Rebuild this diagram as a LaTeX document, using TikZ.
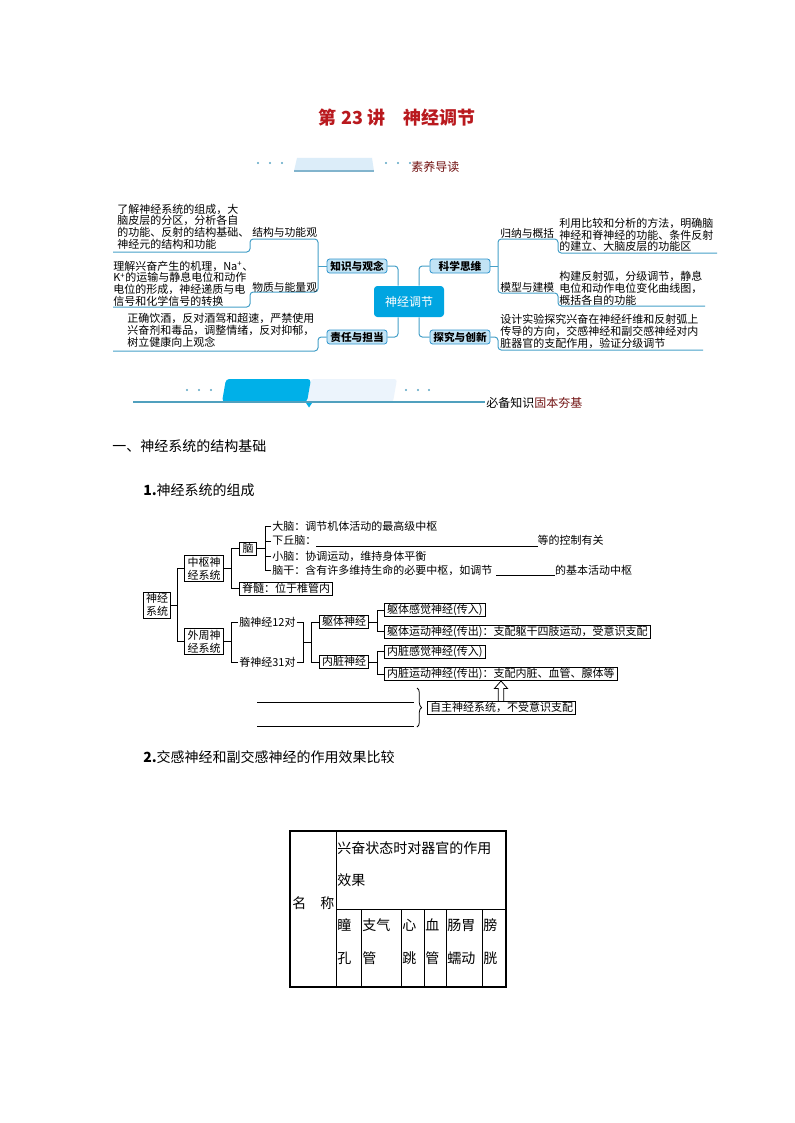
\documentclass[tikz,border=0pt]{standalone}
\usepackage{fontspec}
\setmainfont{Noto Sans CJK SC}
\usetikzlibrary{decorations.pathreplacing,calc}
\definecolor{titlered}{RGB}{185,25,30}
\definecolor{hdrred}{RGB}{115,20,20}
\definecolor{mmline}{RGB}{70,160,200}
\definecolor{mmborder}{RGB}{50,150,205}
\definecolor{mmfill}{RGB}{195,228,245}
\definecolor{mmblue}{RGB}{0,165,225}
\definecolor{dotc}{RGB}{90,165,195}
\definecolor{hdrlight}{RGB}{220,237,249}
\definecolor{hdrlineA}{RGB}{130,180,205}
\definecolor{hdrblue}{RGB}{0,176,232}
\definecolor{hdrpale}{RGB}{236,244,252}
\definecolor{hdrlineB}{RGB}{80,160,190}
\begin{document}
\begin{tikzpicture}[x=0.75pt,y=-0.75pt,
  mline/.style={draw=mmline, line width=0.75pt, rounded corners=2.5pt},
  branch/.style={draw=mmborder, fill=mmfill, rounded corners=2pt, line width=0.6pt, minimum width=45pt, minimum height=10.5pt, inner sep=0pt, font=\fontsize{8}{9}\selectfont\bfseries},
  hub/.style={fill=mmblue, rounded corners=2.5pt, minimum width=52.5pt, minimum height=23.25pt, inner sep=0pt, text=white, font=\fontsize{9}{10}\selectfont},
  desc/.style={inner sep=0pt, align=left, anchor=west, font=\fontsize{8.25}{8.8}\selectfont},
  lbl/.style={inner sep=0pt, anchor=west, font=\fontsize{8.1}{9}\selectfont},
  hdrtext/.style={inner sep=0pt, anchor=west, font=\fontsize{9}{10}\selectfont},
  sec/.style={inner sep=0pt, anchor=west, font=\fontsize{10.5}{12}\selectfont},
  tbox/.style={draw, line width=0.6pt, inner xsep=2pt, inner ysep=0.8pt, text height=6.9pt, text depth=1.35pt, font=\fontsize{8.25}{9.5}\selectfont},
  tboxtwo/.style={draw, line width=0.6pt, align=center, inner xsep=2pt, inner ysep=1pt, font=\fontsize{8.25}{9.8}\selectfont},
  ttext/.style={inner xsep=0.8pt, inner ysep=0pt, anchor=west, font=\fontsize{8.25}{9.5}\selectfont},
  tline/.style={line width=0.6pt},
  cell/.style={inner sep=0pt, anchor=west, font=\fontsize{10.5}{12}\selectfont}
]
\useasboundingbox (0,0) rectangle (794,1123);
\fill[white] (0,0) rectangle (794,1123);

% ---------- title ----------
\node[font=\fontsize{13.5}{15}\selectfont\bfseries, text=titlered, inner sep=0pt] (title) at (397,118) {第 23 讲\quad 神经调节};

% ---------- header 1 ----------
\foreach \x in {258,270,282,386,398,410} \fill[dotc] (\x,163) circle (0.9pt);
\fill[hdrlight] (297,158) -- (372,158) -- (374,171) -- (294,171) -- cycle;
\draw[hdrlineA, line width=0.9pt] (294,171) -- (374,171);
\node[hdrtext, text=hdrred] (syd) at (411,167) {素养导读};

% ---------- mind map ----------
\node[hub] (hub) at (409,301.5) {神经调节};
\node[branch] (zs) at (357,266) {知识与观念};
\node[branch] (kx) at (460,266) {科学思维};
\node[branch] (zr) at (357,337) {责任与担当};
\node[branch] (tj) at (460,337) {探究与创新};
\coordinate (lx) at (398,0);
\coordinate (rx) at (419,0);
\coordinate (lb) at (318,0);
\coordinate (rb) at (498,0);
\draw[mline] (zs.east) -| (hub.north -| lx);
\draw[mline] (zr.east) -| (hub.south -| lx);
\draw[mline] (kx.west) -| (hub.north -| rx);
\draw[mline] (tj.west) -| (hub.south -| rx);

\draw[mline] (zs.west) -- (zs.west -| lb);
\draw[mline] (113,252) -- (250,252) -- (250,239) -- (318,239) -- (318,292) -- (250,292) -- (250,307) -- (113,307);
\draw[mline] (zr.west) -- (zr.west -| lb) -- (318,351) -- (113,351);

\draw[mline] (kx.east) -- (kx.east -| rb);
\draw[mline] (717,253) -- (558,253) -- (558,239) -- (498,239) -- (498,293) -- (558,293) -- (558,306) -- (705,306);
\draw[mline] (tj.east) -- (tj.east -| rb) -- (498,350) -- (703,350);

\node[lbl] (la) at (252,232) {结构与功能观};
\node[lbl] (lbb) at (252,287) {物质与能量观};
\node[lbl] (lc) at (500,233) {归纳与概括};
\node[lbl] (ld) at (500,287) {模型与建模};

\node[desc] (d1) at (117,226.5) {了解神经系统的组成，大\\脑皮层的分区，分析各自\\的功能、反射的结构基础、\\神经元的结构和功能};
\node[desc] (d2) at (113,283.5) {理解兴奋产生的机理，Na\textsuperscript{+}、\\K\textsuperscript{+}的运输与静息电位和动作\\电位的形成，神经递质与电\\信号和化学信号的转换};
\node[desc] (d3) at (127,330.5) {正确饮酒，反对酒驾和超速，严禁使用\\兴奋剂和毒品，调整情绪，反对抑郁，\\树立健康向上观念};
\node[desc] (d4) at (559,235) {利用比较和分析的方法，明确脑\\神经和脊神经的功能、条件反射\\的建立、大脑皮层的功能区};
\node[desc] (d5) at (559,288.5) {构建反射弧，分级调节，静息\\电位和动作电位变化曲线图，\\概括各自的功能};
\node[desc] (d6) at (500,331.5) {设计实验探究兴奋在神经纤维和反射弧上\\传导的方向，交感神经和副交感神经对内\\脏器官的支配作用，验证分级调节};

% ---------- header 2 ----------
\foreach \x in {187,199,211,406,418,429} \fill[dotc] (\x,390) circle (0.9pt);
\fill[hdrpale, rounded corners=2pt] (311,379) -- (397,379) -- (393,402) -- (307,402) -- cycle;
\fill[hdrblue, rounded corners=2.5pt] (226,379) -- (311,379) -- (307,402) -- (222,402) -- cycle;
\draw[hdrlineB, line width=0.8pt] (133,402) -- (485,402);
\fill[hdrblue] (306,403) -- (312,403) -- (309,407.5) -- cycle;
\node[hdrtext] (bb) at (486,403) {必备知识\textcolor{hdrred}{固本夯基}};

% ---------- section titles ----------
\node[sec] (s1) at (112,446) {一、神经系统的结构基础};
\node[sec] (s11) at (143,490) {\textbf{1.}神经系统的组成};
\node[sec] (s2) at (143,757) {\textbf{2.}交感神经和副交感神经的作用效果比较};

% ---------- tree ----------
\node[tboxtwo] (sys) at (157,605) {神经\\系统};
\node[tboxtwo] (zs2) at (204,568.5) {中枢神\\经系统};
\node[tboxtwo] (wz) at (204,641.5) {外周神\\经系统};
\node[tbox] (nao) at (248,548.5) {脑};
\node[tbox, anchor=west] (js) at (239,588.5) {脊髓：位于椎管内};
\node[ttext] (dn) at (271,526) {大脑：调节机体活动的最高级中枢};
\node[ttext] (xqn) at (271,541) {下丘脑：\rule[-1.5pt]{166pt}{0.6pt}等的控制有关};
\node[ttext] (xn) at (271,556) {小脑：协调运动，维持身体平衡};
\node[ttext] (ngn) at (271,570.5) {脑干：含有许多维持生命的必要中枢，如调节\hspace{3pt}\rule[-1.5pt]{44pt}{0.6pt}的基本活动中枢};

\coordinate (nb) at (265,0);
\draw[tline] (nao.east) -- (nao.east -| nb);
\draw[tline] (dn.west) -- (dn.west -| nb) -- (ngn.west -| nb) -- (ngn.west);
\draw[tline] (xqn.west) -- (xqn.west -| nb);
\draw[tline] (xn.west) -- (xn.west -| nb);

\coordinate (cb) at (231,0);
\draw[tline] (zs2.east) -- (zs2.east -| cb);
\draw[tline] (nao.west) -- (nao.west -| cb) -- (js.west -| cb) -- (js.west);

\coordinate (sb) at (177,0);
\draw[tline] (sys.east) -- (sys.east -| sb);
\draw[tline] (zs2.west) -- (zs2.west -| sb) -- (wz.west -| sb) -- (wz.west);

\node[ttext] (nsj) at (238,622) {脑神经12对};
\node[ttext] (jsj) at (238,662) {脊神经31对};
\draw[tline] (wz.east) -- (wz.east -| cb);
\draw[tline] (nsj.west) -- (nsj.west -| cb) -- (jsj.west -| cb) -- (jsj.west);

\coordinate (pba) at (303,0);
\coordinate (pbb) at (311,0);
\coordinate (pm) at (303,642);
\draw[tline] (nsj.east) -- (nsj.east -| pba) -- (jsj.east -| pba) -- (jsj.east);
\draw[tline] (pm) -- (pm -| pbb);
\node[tbox] (qt) at (344,622) {躯体神经};
\node[tbox] (nz) at (344,662) {内脏神经};
\draw[tline] (qt.west) -- (qt.west -| pbb) -- (nz.west -| pbb) -- (nz.west);

\node[tbox, anchor=west] (qg) at (384,610) {躯体感觉神经(传入)};
\node[tbox, anchor=west] (qy) at (384,631.5) {躯体运动神经(传出)：支配躯干四肢运动，受意识支配};
\node[tbox, anchor=west] (ng) at (384,651.5) {内脏感觉神经(传入)};
\node[tbox, anchor=west] (ny) at (384,674) {内脏运动神经(传出)：支配内脏、血管、腺体等};
\coordinate (qb) at (377,0);
\draw[tline] (qt.east) -- (qt.east -| qb);
\draw[tline] (qg.west) -- (qg.west -| qb) -- (qy.west -| qb) -- (qy.west);
\draw[tline] (nz.east) -- (nz.east -| qb);
\draw[tline] (ng.west) -- (ng.west -| qb) -- (ny.west -| qb) -- (ny.west);

\node[tbox, anchor=west] (zz) at (427,708) {自主神经系统，不受意识支配};
\draw[tline, decorate, decoration={brace, amplitude=3.5pt}] ($(zz.west)+(-10,-20)$) -- ($(zz.west)+(-10,19)$);
\coordinate (ax) at (501,0);
\path (zz.north -| ax) coordinate (aB) (ny.south -| ax) coordinate (aT);
\draw[tline] ($(aB)+(-2.7,0)$) -- ($(aT)+(-2.7,7.5)$) -- ($(aT)+(-6.5,7.5)$) -- (aT) -- ($(aT)+(6.5,7.5)$) -- ($(aT)+(2.7,7.5)$) -- ($(aB)+(2.7,0)$);
\draw[tline] (257,702) -- (414,702);
\draw[tline] (257,726) -- (414,726);

% ---------- table ----------
\draw[line width=2pt] (290,831) rectangle (506,987);
\draw[line width=0.7pt] (336,831) -- (336,987);
\draw[line width=0.7pt] (336,909) -- (506,909);
\foreach \x in {361,401,424,446,482} \draw[line width=0.7pt] (\x,909) -- (\x,987);
\node[cell] (h1) at (337,848) {兴奋状态时对器官的作用};
\node[cell] (h2) at (337,880) {效果};
\node[cell] (mc) at (292,903) {名\hspace{1em}称};
\node[cell] (c1a) at (337,925) {瞳};
\node[cell] (c1b) at (337,958) {孔};
\node[cell] (c2a) at (362,925) {支气};
\node[cell] (c2b) at (362,958) {管};
\node[cell] (c3a) at (402,925) {心};
\node[cell] (c3b) at (402,958) {跳};
\node[cell] (c4a) at (425,925) {血};
\node[cell] (c4b) at (425,958) {管};
\node[cell] (c5a) at (447,925) {肠胃};
\node[cell] (c5b) at (447,958) {蠕动};
\node[cell] (c6a) at (483,925) {膀};
\node[cell] (c6b) at (483,958) {胱};
\end{tikzpicture}
\end{document}
